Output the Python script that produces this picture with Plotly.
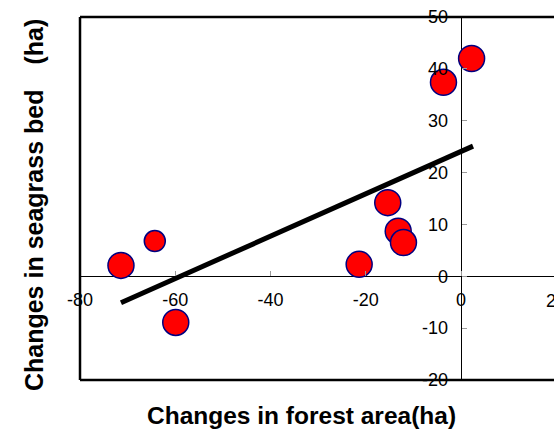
import plotly.graph_objects as go

# Data
forest_change = [-71.4, -64.3, -59.9, -21.4, -15.4, -13.2, -12.1, -3.7, 2.2]
seagrass_change = [2.1, 6.8, -8.9, 2.3, 14.2, 8.7, 6.5, 37.4, 42.0]
trend_x = [-71.4, 2.5]
trend_y = [-5.1, 25.1]
x_ticks = [-80, -60, -40, -20, 0]
x_ticktext = ["-80", "-60", "-40", "-20", "0"]
y_ticks = [-20, -10, 0, 10, 20, 30, 40, 50]
y_ticktext = ["-20", "-10", "0", "10", "20", "30", "40", "50"]
x_title = "Changes in forest area(ha)"
y_title = "Changes in seagrass bed\u3000(ha)"

# styles
marker_sizes = [26, 21, 26, 26, 26, 26, 26, 26, 26]
XMIN, XMAX = -80, 19.5
YMIN, YMAX = -20, 50
FONT = "Liberation Sans, Arial, sans-serif"
TICK_SIZE = 18
TITLE_SIZE = 24.5

fig = go.Figure()
fig.add_trace(go.Scatter(x=trend_x, y=trend_y, mode="lines",
                         line=dict(color="black", width=5),
                         hoverinfo="skip", showlegend=False))
fig.add_trace(go.Scatter(x=forest_change, y=seagrass_change, mode="markers",
                         marker=dict(color="#FF0000", size=marker_sizes, opacity=1,
                                     line=dict(color="#000080", width=1.5)),
                         showlegend=False))

xpos = (0 - YMIN) / (YMAX - YMIN)
ypos = (0 - XMIN) / (XMAX - XMIN)

fig.update_layout(
    template="none",
    width=554, height=431,
    margin=dict(l=80, r=0, t=17, b=51, autoexpand=False),
    paper_bgcolor="white", plot_bgcolor="white",
    font=dict(family=FONT, color="black", size=TICK_SIZE),
    xaxis=dict(range=[XMIN, XMAX], tickvals=x_ticks, ticktext=x_ticktext,
               showgrid=False, automargin=False,
               zeroline=True, zerolinecolor="black", zerolinewidth=1,
               showline=False, anchor="free", position=xpos,
               ticks="inside", ticklen=5, tickcolor="#999999",
               ticklabelstandoff=11, tickfont=dict(size=TICK_SIZE)),
    yaxis=dict(range=[YMIN, YMAX], tickvals=y_ticks, ticktext=y_ticktext,
               showgrid=False, automargin=False,
               zeroline=True, zerolinecolor="black", zerolinewidth=1,
               showline=False, anchor="free", position=ypos,
               ticks="inside", ticklen=5, tickcolor="#999999",
               ticklabelstandoff=13, tickfont=dict(size=TICK_SIZE)),
)

# frame (top, left, bottom)
for x0, y0, x1, y1 in [(0, 1, 1, 1), (0, 0, 0, 1), (0, 0, 1, 0)]:
    fig.add_shape(type="line", xref="paper", yref="paper",
                  x0=x0, y0=y0, x1=x1, y1=y1,
                  line=dict(color="black", width=2.5))

# cut-off "20" tick label at the right edge
fig.add_annotation(xref="paper", yref="paper",
                   x=(20 - XMIN) / (XMAX - XMIN), y=xpos,
                   text="20", showarrow=False, yanchor="top", xanchor="left",
                   xshift=-12, yshift=-13, font=dict(size=TICK_SIZE, family=FONT))

fig.add_annotation(xref="paper", yref="paper", x=0.468, y=-0.099,
                   text=x_title, showarrow=False,
                   xanchor="center", yanchor="middle",
                   font=dict(size=TITLE_SIZE, family=FONT, color="black", weight="bold"))
fig.add_annotation(xref="paper", yref="paper", x=-0.097, y=0.482,
                   text=y_title, showarrow=False, textangle=-90,
                   xanchor="center", yanchor="middle",
                   font=dict(size=25, family=FONT, color="black", weight="bold"))

fig.write_html("out.html", config={"displayModeBar": False},
               post_script="document.body.style.margin='0';document.body.style.overflow='hidden';")
